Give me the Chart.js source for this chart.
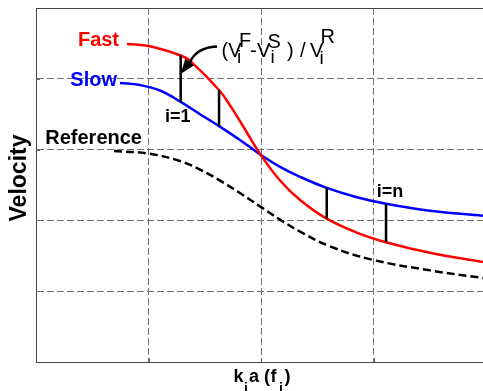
<!DOCTYPE html>
<html>
<head>
<meta charset="utf-8">
<title>Velocity</title>
<script src="https://cdn.jsdelivr.net/npm/chart.js@4.4.1/dist/chart.umd.min.js"></script>
<style>
  html, body { margin: 0; padding: 0; background: #fff; }
  canvas { display: block; }
</style>
</head>
<body>
<canvas id="velocityChart" width="483" height="391"></canvas>
<script>
// Curve samples: x = k_i a (f_i), y = velocity
const fastX = [0.809, 1.013, 1.286, 1.369, 1.627, 1.742, 1.858, 1.996, 2.169, 2.347, 2.584, 2.844, 3.111, 3.502, 3.973];
const fastY = [4.492, 4.459, 4.329, 4.253, 3.842, 3.582, 3.284, 2.928, 2.564, 2.288, 2.024, 1.832, 1.692, 1.542, 1.412];

const slowX = [0.747, 0.924, 1.102, 1.286, 1.458, 1.627, 1.813, 1.996, 2.169, 2.347, 2.584, 2.844, 3.111, 3.502, 3.973];
const slowY = [3.941, 3.912, 3.835, 3.674, 3.500, 3.332, 3.136, 2.928, 2.757, 2.616, 2.459, 2.331, 2.235, 2.136, 2.065];

const refX = [0.693, 0.996, 1.280, 1.458, 1.636, 1.813, 1.991, 2.169, 2.347, 2.613, 2.987, 3.502, 3.973];
const refY = [2.980, 2.945, 2.839, 2.718, 2.562, 2.386, 2.198, 2.011, 1.842, 1.634, 1.445, 1.294, 1.186];

// Frequencies where the fast/slow difference is marked
const markX = [1.286, 1.627, 2.584, 3.111];

const xTicks = [1, 2, 3];
const yTicks = [1, 2, 3, 4];

const FONT = '"Liberation Sans", Arial, Helvetica, sans-serif';

// Text labels next to the curves (data coords)
const curveLabels = [
  { text: 'Fast', x: 0.738, y: 4.467, color: '#ff0000', align: 'right', size: 20 },
  { text: 'Slow', x: 0.72, y: 3.90, color: '#0000ff', align: 'right', size: 20 },
  { text: 'Reference', x: 0.942, y: 3.075, color: '#000000', align: 'right', size: 20 },
  { text: 'i=1', x: 1.147, y: 3.394, color: '#000000', align: 'left', size: 18 },
  { text: 'i=n', x: 3.028, y: 2.326, color: '#000000', align: 'left', size: 18 }
];

// (V_i^F - V_i^S) / V_i^R, pieces offset from its anchor in px
const formulaAnchor = { x: 1.649, y: 4.308 };
const formulaPieces = [
  { text: '(V', dx: 0, dy: 0, size: 20 },
  { text: 'F', dx: 17.5, dy: -10, size: 20 },
  { text: 'i', dx: 15.5, dy: 6.5, size: 19 },
  { text: '-', dx: 28.5, dy: 0, size: 20 },
  { text: 'V', dx: 35.5, dy: 0, size: 20 },
  { text: 'S', dx: 46, dy: -9, size: 20 },
  { text: 'i', dx: 49, dy: 6.5, size: 19 },
  { text: ')', dx: 65.5, dy: 0, size: 20 },
  { text: '/', dx: 78.5, dy: 0, size: 20 },
  { text: 'V', dx: 88.5, dy: 0, size: 20 },
  { text: 'R', dx: 99, dy: -13.5, size: 20 },
  { text: 'i', dx: 98, dy: 7, size: 19 }
];

// Arrow from the formula to the first mark
const arrowTail = { x: 1.609, y: 4.456 };
const arrowTip = { x: 1.286, y: 4.068 };

function toPoints(xs, ys) {
  return xs.map((x, i) => ({ x: x, y: ys[i] }));
}

function valueAt(xs, ys, x) {
  return ys[xs.indexOf(x)];
}

function curve(xs, ys, color, dash) {
  return {
    data: toPoints(xs, ys),
    borderColor: color,
    borderWidth: 2.5,
    borderDash: dash || [],
    pointRadius: 0,
    fill: false,
    tension: 0.4
  };
}

// Vertical bars between the fast and slow curves
const markDatasets = markX.map(x => ({
  data: [{ x: x, y: valueAt(fastX, fastY, x) }, { x: x, y: valueAt(slowX, slowY, x) }],
  borderColor: '#000000',
  borderWidth: 2.5,
  pointRadius: 0,
  tension: 0
}));

// Frame top, inner ticks, axis titles and annotations
const annotationPlugin = {
  id: 'annotations',
  afterDraw(chart) {
    const ctx = chart.ctx;
    const sx = chart.scales.x;
    const sy = chart.scales.y;
    const area = chart.chartArea;

    ctx.save();

    // top border
    ctx.strokeStyle = '#444';
    ctx.lineWidth = 1;
    ctx.beginPath();
    ctx.moveTo(area.left, area.top + 0.5);
    ctx.lineTo(area.right, area.top + 0.5);
    ctx.stroke();

    // small inward ticks
    ctx.strokeStyle = '#666';
    ctx.beginPath();
    xTicks.forEach(v => {
      const px = Math.round(sx.getPixelForValue(v)) + 0.5;
      ctx.moveTo(px, area.bottom);
      ctx.lineTo(px, area.bottom - 4);
    });
    yTicks.forEach(v => {
      const py = Math.round(sy.getPixelForValue(v)) + 0.5;
      ctx.moveTo(area.left, py);
      ctx.lineTo(area.left + 4, py);
    });
    ctx.stroke();

    // curve labels
    ctx.textBaseline = 'alphabetic';
    curveLabels.forEach(l => {
      ctx.font = 'bold ' + l.size + 'px ' + FONT;
      ctx.fillStyle = l.color;
      ctx.textAlign = l.align;
      ctx.fillText(l.text, sx.getPixelForValue(l.x), sy.getPixelForValue(l.y));
    });

    // formula
    ctx.textAlign = 'left';
    ctx.fillStyle = '#000';
    const fx = sx.getPixelForValue(formulaAnchor.x);
    const fy = sy.getPixelForValue(formulaAnchor.y);
    formulaPieces.forEach(p => {
      ctx.font = p.size + 'px ' + FONT;
      ctx.fillText(p.text, fx + p.dx, fy + p.dy);
    });

    // curved arrow, head follows the end tangent
    const tx = sx.getPixelForValue(arrowTail.x);
    const ty = sy.getPixelForValue(arrowTail.y);
    const hx = sx.getPixelForValue(arrowTip.x);
    const hy = sy.getPixelForValue(arrowTip.y);
    const headLen = 15;
    const headHalf = 5.5;
    const bx0 = hx + 9, by0 = hy - 12;
    const len = Math.hypot(hx - bx0, hy - by0);
    const ux = (hx - bx0) / len, uy = (hy - by0) / len;
    const baseX = hx - ux * headLen, baseY = hy - uy * headLen;
    ctx.strokeStyle = '#000';
    ctx.lineWidth = 2.5;
    ctx.beginPath();
    ctx.moveTo(tx, ty);
    ctx.quadraticCurveTo(baseX + 6, ty + 1, baseX, baseY + 1);
    ctx.stroke();
    ctx.beginPath();
    ctx.moveTo(hx, hy);
    ctx.lineTo(baseX - uy * headHalf, baseY + ux * headHalf);
    ctx.lineTo(baseX + uy * headHalf, baseY - ux * headHalf);
    ctx.closePath();
    ctx.fill();

    // y axis title
    ctx.font = 'bold 23px ' + FONT;
    ctx.textAlign = 'center';
    ctx.translate(26, 178);
    ctx.rotate(-Math.PI / 2);
    ctx.fillText('Velocity', 0, 0);
    ctx.setTransform(1, 0, 0, 1, 0, 0);

    // x axis title: k_i a (f_i)
    const bx = (area.left + area.right) / 2 - 26;
    const by = area.bottom + 19.5;
    ctx.textAlign = 'left';
    const xParts = [
      { text: 'k', dx: 0, dy: 0, size: 18 },
      { text: 'i', dx: 10.5, dy: 11, size: 14 },
      { text: 'a', dx: 15.5, dy: 0, size: 18 },
      { text: '(', dx: 30.5, dy: 0, size: 18 },
      { text: 'f', dx: 37, dy: 0, size: 18 },
      { text: 'i', dx: 45.5, dy: 11, size: 14 },
      { text: ')', dx: 51, dy: 0, size: 18 }
    ];
    xParts.forEach(p => {
      ctx.font = 'bold ' + p.size + 'px ' + FONT;
      ctx.fillText(p.text, bx + p.dx, by + p.dy);
    });

    ctx.restore();
  }
};

const ctx = document.getElementById('velocityChart').getContext('2d');

const velocityChart = new Chart(ctx, {
  type: 'line',
  data: {
    datasets: markDatasets.concat([
      curve(fastX, fastY, '#ff0000'),
      curve(slowX, slowY, '#0000ff'),
      curve(refX, refY, '#000000', [8, 4])
    ])
  },
  options: {
    responsive: false,
    animation: false,
    events: [],
    layout: { padding: { left: 36, top: 8, right: 0, bottom: 29 } },
    plugins: {
      legend: { display: false },
      tooltip: { enabled: false }
    },
    scales: {
      x: {
        type: 'linear',
        min: 0,
        max: 3.973,
        afterBuildTicks: scale => { scale.ticks = xTicks.map(v => ({ value: v })); },
        ticks: { display: false },
        grid: { color: '#707070', lineWidth: 1, drawTicks: false },
        border: { display: true, color: '#444', width: 1, dash: [7, 3] }
      },
      y: {
        type: 'linear',
        min: 0,
        max: 5,
        afterBuildTicks: scale => { scale.ticks = yTicks.map(v => ({ value: v })); },
        ticks: { display: false },
        grid: { color: '#707070', lineWidth: 1, drawTicks: false },
        border: { display: true, color: '#444', width: 1, dash: [7, 3] }
      }
    }
  },
  plugins: [annotationPlugin]
});
</script>
</body>
</html>
